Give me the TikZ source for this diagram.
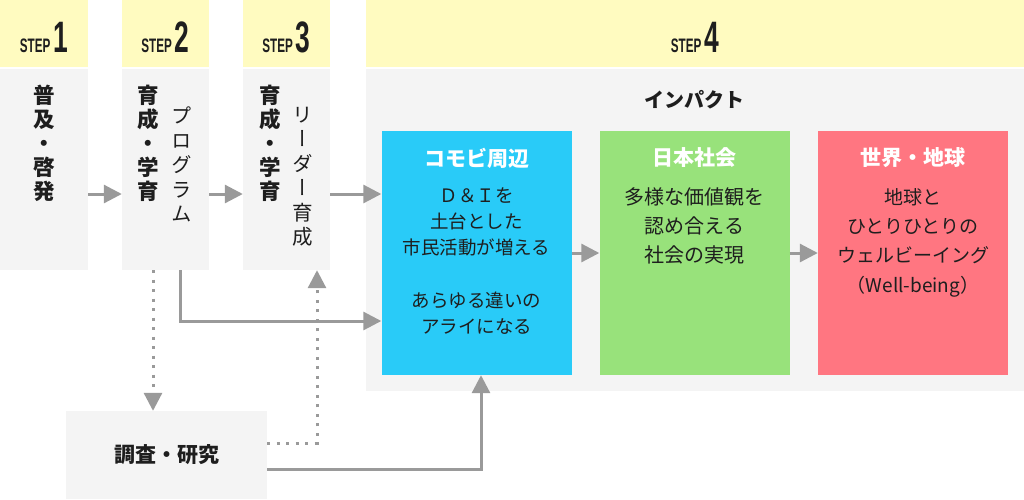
\documentclass[tikz,border=0pt]{standalone}
\usepackage{fontspec}
\setmainfont{Noto Sans CJK JP}
\newfontfamily\tatefont[RawFeature=+vert]{Noto Sans CJK JP}
\newfontfamily\stepfont[FakeStretch=0.6]{Liberation Sans}
\usetikzlibrary{arrows.meta}
\definecolor{stepyellow}{HTML}{FFFBC0}
\definecolor{boxgray}{HTML}{F4F4F4}
\definecolor{arrowgray}{HTML}{9A9A9A}
\definecolor{komobiblue}{HTML}{29CBF8}
\definecolor{nihongreen}{HTML}{98E27B}
\definecolor{sekaired}{HTML}{FF7681}
\definecolor{inkgray}{HTML}{1E1E1E}
\newcommand\steplabel[1]{\stepfont\bfseries\fontsize{19.5}{20}\selectfont STEP\hspace{3pt}\fontsize{44}{44}\selectfont #1}

\begin{document}
\begin{tikzpicture}[x=1pt, y=-1pt, >={Triangle[length=18pt,width=18pt]},
  head/.style={fill=stepyellow, inner sep=0pt, minimum height=67pt, text height=37pt, text depth=0pt, text=inkgray},
  body/.style={fill=boxgray, inner sep=0pt},
  tate/.style={inner sep=0pt, align=center, anchor=north, text=inkgray, font=\tatefont\fontsize{20.5}{24.4}\selectfont},
  tatebold/.style={tate, font=\tatefont\bfseries\fontsize{21.5}{24}\selectfont},
  impact/.style={inner sep=0pt, minimum width=190pt, minimum height=244pt},
  title/.style={inner sep=0pt, text=white, font=\bfseries\fontsize{21}{24}\selectfont},
  note/.style={inner sep=0pt, align=center, anchor=north, text=inkgray},
  arr/.style={->, arrowgray, line width=3pt},
  dot/.style={arr, dash pattern=on 3pt off 6.5pt}]
\useasboundingbox (0,0) rectangle (1024,499);

% steps
\node[head, minimum width=88pt] (h1) at (44,33.5) {\steplabel{1}};
\node[head, minimum width=87pt] (h2) at (165.5,33.5) {\steplabel{2}};
\node[head, minimum width=87pt] (h3) at (286.5,33.5) {\steplabel{3}};
\node[head, minimum width=658pt] (h4) at (695,33.5) {\steplabel{4}};
\node[body, minimum width=88pt, minimum height=201pt] (b1) at (44,169.5) {};
\node[body, minimum width=87pt, minimum height=201pt] (b2) at (165.5,169.5) {};
\node[body, minimum width=87pt, minimum height=201pt] (b3) at (286.5,169.5) {};
\node[body, minimum width=658pt, minimum height=322pt] (b4) at (695,230) {};

\node[tatebold] (t1) at (44,84.5) {普\\及\\・\\啓\\発};
\node[tatebold] (t2) at (148,84.5) {育\\成\\・\\学\\育};
\node[tate] (p2) at (182,107) {プ\\ロ\\グ\\ラ\\ム};
\node[tatebold] (t3) at (270,84.5) {育\\成\\・\\学\\育};
\node[tate] (p3) at (303,107) {リ\\ー\\ダ\\ー\\育\\成};

% impact
\node[text=inkgray, font=\bfseries\fontsize{20}{24}\selectfont] (imp) at (694,100) {インパクト};
\node[impact, fill=komobiblue] (komobi) at (476.5,253) {};
\node[impact, fill=nihongreen] (nihon) at (694.5,253) {};
\node[impact, fill=sekaired] (sekai) at (913,253) {};
\node[title] (k0) at (476.5,158) {コモビ周辺};
\node[title] (n0) at (694.5,158) {日本社会};
\node[title] (s0) at (913,158) {世界・地球};
\node[note, font=\fontsize{18.5}{26}\selectfont] (k1) at (476.5,187.5)
  {Ｄ＆Ｉを\\土台とした\\市民活動が増える\\[27pt]あらゆる違いの\\アライになる};
\node[note, font=\fontsize{20}{29}\selectfont] (n1) at (694.5,187.5)
  {多様な価値観を\\認め合える\\社会の実現};
\node[note, font=\fontsize{19}{29.3}\selectfont] (s1) at (913,188)
  {地球と\\ひとりひとりの\\ウェルビーイング\\（Well-being）};

% research
\node[body, minimum width=201pt, minimum height=88pt, text=inkgray,
  font=\bfseries\fontsize{21}{24}\selectfont] (res) at (166.5,455) {調査・研究};

% arrows
\coordinate (lv) at (0,194);
\coordinate (lw) at (0,321);
\coordinate (d2) at ([xshift=-12.5pt]b2.south);
\draw[arr] (b1.east |- lv) -- (b2.west |- lv);
\draw[arr] (b2.east |- lv) -- (b3.west |- lv);
\draw[arr] (b3.east |- lv) -- (komobi.west |- lv);
\draw[arr] (komobi.east) -- (nihon.west);
\draw[arr] (nihon.east) -- (sekai.west);
\draw[arr] ([xshift=14.5pt]b2.south) |- (komobi.west |- lw);
\draw[dot] (d2) -- (d2 |- res.north);
\draw[dot] ([yshift=12pt]res.east) -| ([xshift=30.5pt]b3.south);
\draw[arr] ([yshift=-14pt]res.east) -| ([xshift=4.5pt]komobi.south);
\end{tikzpicture}
\end{document}
